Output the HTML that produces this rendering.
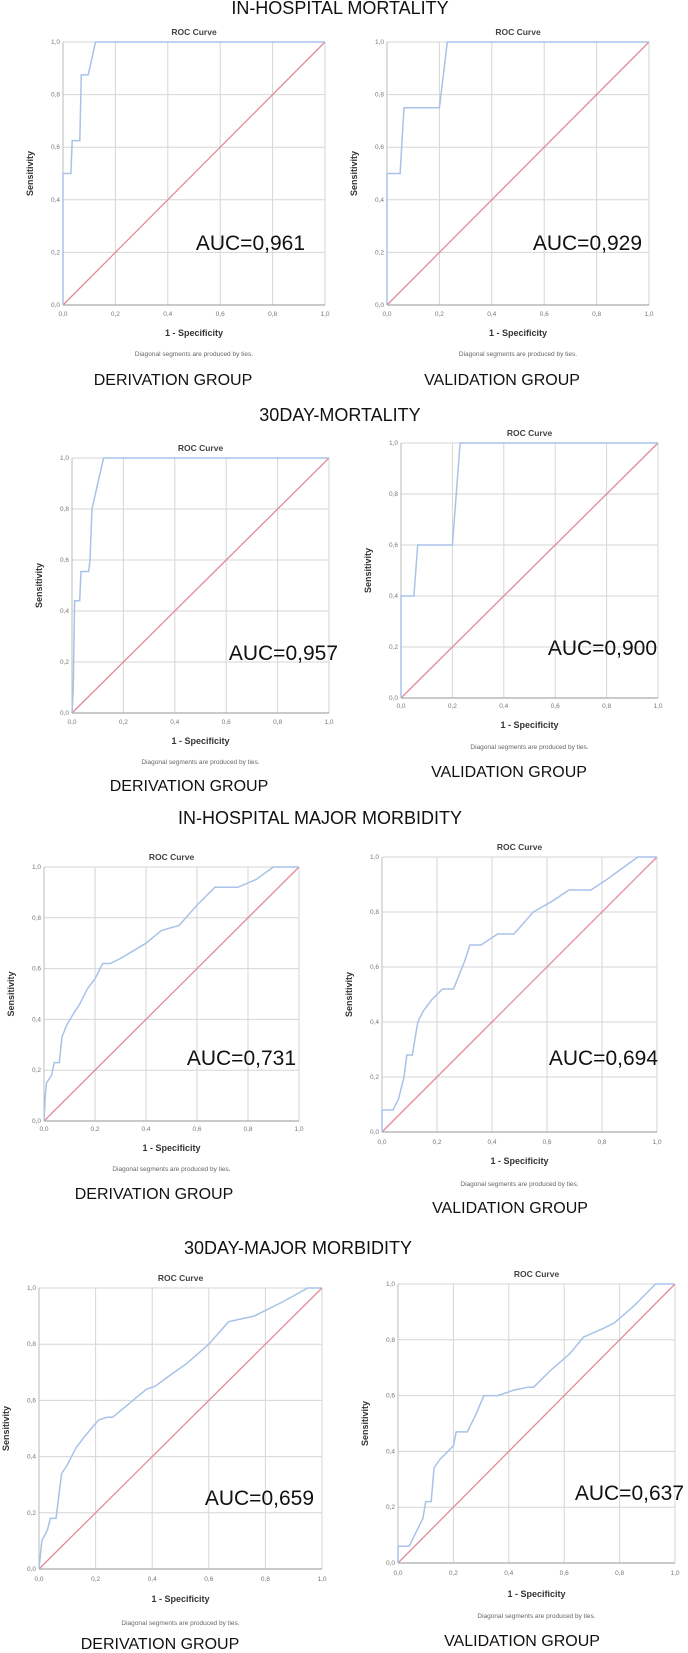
<!DOCTYPE html>
<html><head><meta charset="utf-8"><style>
html,body{margin:0;padding:0;background:#fff;}
svg{display:block;font-family:"Liberation Sans",sans-serif;}
</style></head><body>
<svg id="fig" width="688" height="1653" viewBox="0 0 688 1653">
<text x="340" y="14" font-size="18" text-anchor="middle" fill="#111">IN-HOSPITAL MORTALITY</text>
<text x="340" y="421" font-size="18" text-anchor="middle" fill="#111">30DAY-MORTALITY</text>
<text x="320" y="824" font-size="18" text-anchor="middle" fill="#111">IN-HOSPITAL MAJOR MORBIDITY</text>
<text x="298" y="1254" font-size="18" text-anchor="middle" fill="#111">30DAY-MAJOR MORBIDITY</text>
</svg>
<script>
// ROC data per panel: false positive rate (1-specificity) and sensitivity
const fpr1 = [0,0,0.03,0.035,0.064,0.07,0.096,0.124,1];
const tpr1 = [0,0.5,0.5,0.625,0.625,0.875,0.875,1,1];
const fpr2 = [0,0,0.05,0.065,0.2,0.23,1];
const tpr2 = [0,0.5,0.5,0.75,0.75,1,1];
const fpr3 = [0,0.005,0.01,0.03,0.035,0.065,0.07,0.078,0.1,0.123,1];
const tpr3 = [0,0.1,0.44,0.44,0.555,0.555,0.6,0.8,0.9,1,1];
const fpr4 = [0,0,0.05,0.065,0.2,0.23,1];
const tpr4 = [0,0.4,0.4,0.6,0.6,1,1];
const fpr5 = [0,0.005,0.01,0.03,0.04,0.06,0.07,0.09,0.12,0.14,0.17,0.2,0.23,0.26,0.3,0.35,0.4,0.46,0.53,0.6,0.67,0.76,0.83,0.9,1];
const tpr5 = [0,0.1,0.15,0.18,0.23,0.23,0.33,0.38,0.43,0.46,0.52,0.56,0.62,0.62,0.64,0.67,0.7,0.75,0.77,0.85,0.92,0.92,0.95,1,1];
const fpr6 = [0,0,0.04,0.06,0.08,0.09,0.11,0.13,0.15,0.18,0.22,0.26,0.3,0.32,0.36,0.42,0.48,0.55,0.62,0.68,0.76,0.82,0.93,1];
const tpr6 = [0,0.08,0.08,0.12,0.2,0.28,0.28,0.4,0.44,0.48,0.52,0.52,0.62,0.68,0.68,0.72,0.72,0.8,0.84,0.88,0.88,0.92,1,1];
const fpr7 = [0,0.01,0.02,0.03,0.04,0.06,0.08,0.1,0.13,0.16,0.21,0.24,0.26,0.32,0.38,0.41,0.45,0.52,0.6,0.67,0.76,0.86,0.95,1];
const tpr7 = [0,0.1,0.12,0.14,0.18,0.18,0.34,0.37,0.43,0.47,0.53,0.54,0.54,0.59,0.64,0.65,0.68,0.73,0.8,0.88,0.9,0.95,1,1];
const fpr8 = [0,0,0.04,0.07,0.09,0.1,0.12,0.13,0.15,0.18,0.2,0.21,0.25,0.28,0.31,0.36,0.42,0.47,0.49,0.55,0.62,0.67,0.74,0.78,0.85,0.93,1];
const tpr8 = [0,0.06,0.06,0.12,0.16,0.22,0.22,0.34,0.37,0.4,0.42,0.47,0.47,0.53,0.6,0.6,0.62,0.63,0.63,0.69,0.75,0.81,0.84,0.86,0.92,1,1];
const aucLabels = ["AUC=0,961","AUC=0,929","AUC=0,957","AUC=0,900","AUC=0,731","AUC=0,694","AUC=0,659","AUC=0,637"];
const tickLabels = ["0,0","0,2","0,4","0,6","0,8","1,0"];
const tickValues = [0,0.2,0.4,0.6,0.8,1];
const groupLabels = ["DERIVATION GROUP","VALIDATION GROUP"];

const layouts = [
 {x0:63,x1:325,y0:42,y1:305,tk:313,lb:332,dg:353,gx:173,gy:385,ax:305,ay:250},
 {x0:387,x1:649,y0:42,y1:305,tk:313,lb:332,dg:353,gx:502,gy:385,ax:642,ay:250},
 {x0:72,x1:329,y0:458,y1:713,tk:721,lb:740,dg:761,gx:189,gy:791,ax:338,ay:660},
 {x0:401,x1:658,y0:443,y1:698,tk:705,lb:724,dg:746,gx:509,gy:777,ax:657,ay:655},
 {x0:44,x1:299,y0:867,y1:1121,tk:1128,lb:1147,dg:1168,gx:154,gy:1199,ax:296,ay:1065},
 {x0:382,x1:657,y0:857,y1:1132,tk:1141,lb:1160,dg:1183,gx:510,gy:1213,ax:658,ay:1065},
 {x0:39,x1:322,y0:1288,y1:1569,tk:1578,lb:1598,dg:1622,gx:160,gy:1649,ax:314,ay:1505},
 {x0:398,x1:675,y0:1284,y1:1563,tk:1572,lb:1593,dg:1615,gx:522,gy:1646,ax:684,ay:1500}
];
const series = [[fpr1,tpr1],[fpr2,tpr2],[fpr3,tpr3],[fpr4,tpr4],[fpr5,tpr5],[fpr6,tpr6],[fpr7,tpr7],[fpr8,tpr8]];
const NS = "http://www.w3.org/2000/svg";
const svg = document.getElementById('fig');
function mk(tag, attrs, parent){
  const e = document.createElementNS(NS, tag);
  for (const k in attrs) e.setAttribute(k, attrs[k]);
  (parent||svg).appendChild(e);
  return e;
}
layouts.forEach((L, i) => {
  const g = mk('g', {});
  
  
  const sx = v => L.x0 + v * (L.x1 - L.x0);
  const sy = v => L.y1 - v * (L.y1 - L.y0);
  // grid
  tickValues.forEach((t, j) => {
    if (j > 0) {
      const gv = mk('line', {x1:sx(t), x2:sx(t), y1:L.y0, y2:L.y1, stroke:'#d6d6d6', 'stroke-width':1}, g);
      
      
      const gh = mk('line', {x1:L.x0, x2:L.x1, y1:sy(t), y2:sy(t), stroke:'#d6d6d6', 'stroke-width':1}, g);
      
      
    }
    const xt = mk('text', {x:sx(t), y:L.tk + 3, 'font-size':6.5, 'text-anchor':'middle', fill:'#777'}, g);
    xt.textContent = tickLabels[j];
    
    
    const yt = mk('text', {x:L.x0 - 3, y:sy(t) + 2, 'font-size':6.5, 'text-anchor':'end', fill:'#777'}, g);
    yt.textContent = tickLabels[j];
    
    
  });
  const xa = mk('line', {x1:L.x0, x2:L.x1, y1:L.y1, y2:L.y1, stroke:'#aaa', 'stroke-width':1.2}, g);
  
  
  const ya = mk('line', {x1:L.x0, x2:L.x0, y1:L.y0, y2:L.y1, stroke:'#bbb', 'stroke-width':1}, g);
  
  
  // diagonal reference
  const d = mk('line', {x1:sx(0), y1:sy(0), x2:sx(1), y2:sy(1), stroke:'#e48a98', 'stroke-width':1.3}, g);
  
  
  // ROC curve
  const [fx, ty] = series[i];
  const pts = fx.map((v, k) => sx(v).toFixed(1) + ',' + sy(ty[k]).toFixed(1)).join(' ');
  const c = mk('polyline', {points:pts, fill:'none', stroke:'#a8c2e8', 'stroke-width':1.5}, g);
  
  
  // titles
  const cx = (L.x0 + L.x1) / 2;
  const t = mk('text', {x:cx, y:L.y0 - 7, 'font-size':8.5, 'font-weight':'bold', 'text-anchor':'middle', fill:'#444'}, g);
  t.textContent = 'ROC Curve';
  
  
  const xl = mk('text', {x:cx, y:L.lb + 4, 'font-size':9, 'font-weight':'bold', 'text-anchor':'middle', fill:'#333'}, g);
  xl.textContent = '1 - Specificity';
  
  
  const my = (L.y0 + L.y1) / 2;
  const yl = mk('text', {x:L.x0 - 30, y:my, 'font-size':9, 'font-weight':'bold', 'text-anchor':'middle', fill:'#333', transform:'rotate(-90 ' + (L.x0 - 30) + ' ' + my + ')'}, g);
  yl.textContent = 'Sensitivity';
  
  
  const dn = mk('text', {x:cx, y:L.dg + 3, 'font-size':6.5, 'text-anchor':'middle', fill:'#666'}, g);
  dn.textContent = 'Diagonal segments are produced by ties.';
  
  
  const au = mk('text', {x:L.ax, y:L.ay, 'font-size':21, 'text-anchor':'end', fill:'#111'}, g);
  au.textContent = aucLabels[i];
  
  
  const gl = mk('text', {x:L.gx, y:L.gy, 'font-size':16, 'text-anchor':'middle', fill:'#111'}, g);
  gl.textContent = groupLabels[i % 2];
  
  
});
</script>
</body></html>
